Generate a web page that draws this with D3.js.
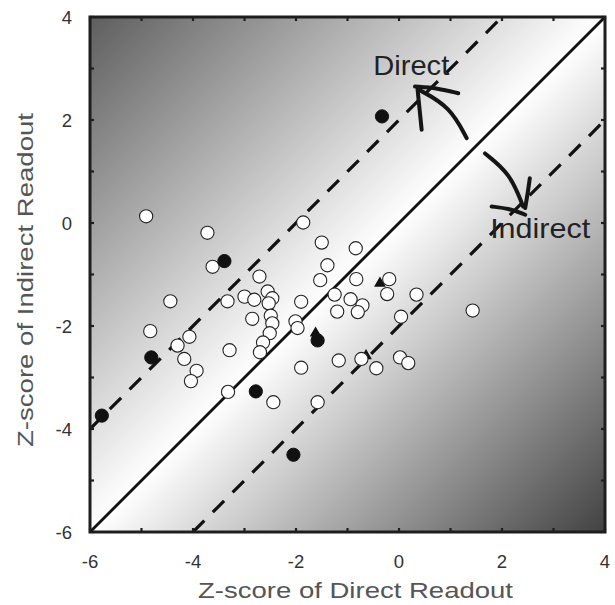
<!DOCTYPE html>
<html>
<head>
<meta charset="utf-8">
<script src="https://cdn.jsdelivr.net/npm/d3@7"></script>
<style>
  html, body { margin: 0; padding: 0; background: #fff; }
  svg { display: block; }
  text { font-family: "Liberation Sans", Arial, Helvetica, sans-serif; }
</style>
</head>
<body>
<script>
// ---- Data ----
const openX = [-4.91, -3.72, -3.62, -1.86, -1.50, -0.84, -1.39, -2.71, -1.53, -0.83, -0.19,
  -4.44, -3.33, -3.00, -2.81, -2.55, -2.46, -2.53, -1.90, -1.25, -0.94, -0.71, -0.80, -1.20,
  -0.23, 0.34, 1.43, 0.04, -2.85, -2.49, -2.46, -2.51, -2.01, -1.97, -4.83, -4.07, -4.30,
  -3.29, -2.64, -2.70, -4.17, -3.93, -4.04, -3.32, -2.44, -1.90, -1.58, -1.17, -0.73, -0.44,
  0.02, 0.18];
const openY = [0.13, -0.19, -0.85, 0.01, -0.38, -0.49, -0.82, -1.04, -1.11, -1.09, -1.09,
  -1.52, -1.52, -1.43, -1.49, -1.33, -1.46, -1.56, -1.53, -1.39, -1.48, -1.60, -1.73, -1.72,
  -1.38, -1.39, -1.70, -1.82, -1.86, -1.80, -1.95, -2.14, -1.91, -2.04, -2.10, -2.21, -2.38,
  -2.47, -2.32, -2.51, -2.64, -2.87, -3.07, -3.28, -3.48, -2.81, -3.48, -2.67, -2.64, -2.82,
  -2.61, -2.72];
const filledX = [-0.33, -3.39, -4.81, -5.77, -2.78, -1.58, -2.05];
const filledY = [2.07, -0.74, -2.61, -3.74, -3.27, -2.28, -4.50];
const triX = [-0.37, -1.62, -0.64];
const triY = [-1.17, -2.14, -2.58];
const tickValues = [-6, -4, -2, 0, 2, 4];
const minorTicks = [-6, -5, -4, -3, -2, -1, 0, 1, 2, 3, 4];
const xTitle = "Z-score of Direct Readout";
const yTitle = "Z-score of Indirect Readout";
// reference lines: y = x + offset
const lineOffsets = [0];
const dashedOffsets = [2, -2];
// hand-drawn arrow annotations (data units)
const arrowCurves = [
  [[1.315, 1.645], [0.99, 2.26], [0.40, 2.58]],
  [[1.67, 1.35], [2.16, 0.96], [2.41, 0.32]]
];
const arrowHeads = [
  [[0.44, 1.81], [0.40, 2.20], [0.36, 2.60]],
  [[0.31, 2.65], [0.75, 2.62], [1.15, 2.52]],
  [[2.54, 0.87], [2.50, 0.58], [2.45, 0.29]],
  [[1.80, 0.32], [2.15, 0.28], [2.45, 0.16]]
];
const labels = [
  { text: "Direct", x: -0.50, y: 2.88, len: 76 },
  { text: "Indirect", x: 1.77, y: -0.29, len: 100 }
];

// ---- Chart ----
const W = 615, H = 605;
const svg = d3.select("body").append("svg").attr("width", W).attr("height", H);
const x = d3.scaleLinear().domain([-6, 4]).range([90, 605]);
const y = d3.scaleLinear().domain([-6, 4]).range([532, 17]);

const defs = svg.append("defs");
const grad = defs.append("linearGradient").attr("id", "bg")
  .attr("gradientUnits", "userSpaceOnUse")
  .attr("x1", x(-6)).attr("y1", y(4)).attr("x2", x(4)).attr("y2", y(-6));
grad.append("stop").attr("offset", 0).attr("stop-color", "#5e5e5e");
grad.append("stop").attr("offset", 0.5).attr("stop-color", "#ffffff");
grad.append("stop").attr("offset", 1).attr("stop-color", "#424242");
defs.append("clipPath").attr("id", "clip").append("rect")
  .attr("x", x(-6)).attr("y", y(4)).attr("width", x(4) - x(-6)).attr("height", y(-6) - y(4));

svg.append("rect").attr("x", x(-6)).attr("y", y(4))
  .attr("width", x(4) - x(-6)).attr("height", y(-6) - y(4))
  .attr("fill", "url(#bg)");

const plot = svg.append("g").attr("clip-path", "url(#clip)");

// solid diagonal
lineOffsets.forEach(o => {
  plot.append("line")
    .attr("x1", x(-6)).attr("y1", y(-6 + o)).attr("x2", x(4)).attr("y2", y(4 + o))
    .attr("stroke", "#111").attr("stroke-width", 2.8);
});
// dashed lines
dashedOffsets.forEach(o => {
  const x0 = Math.max(-6, -6 - o), x1 = Math.min(4, 4 - o);
  plot.append("line")
    .attr("x1", x(x0)).attr("y1", y(x0 + o)).attr("x2", x(x1)).attr("y2", y(x1 + o))
    .attr("stroke", "#111").attr("stroke-width", 3.2)
    .attr("stroke-dasharray", "16,12");
});

// triangles
const tri = d3.symbol().type(d3.symbolTriangle).size(60);
plot.selectAll(".tri").data(triX.map((v, i) => [v, triY[i]])).enter()
  .append("path").attr("d", tri)
  .attr("transform", d => `translate(${x(d[0])},${y(d[1])})`)
  .attr("fill", "#111");

// open circles
plot.selectAll(".open").data(openX.map((v, i) => [v, openY[i]])).enter()
  .append("circle")
  .attr("cx", d => x(d[0])).attr("cy", d => y(d[1])).attr("r", 6.6)
  .attr("fill", "#fff").attr("stroke", "#222").attr("stroke-width", 1.1);

// filled circles
plot.selectAll(".filled").data(filledX.map((v, i) => [v, filledY[i]])).enter()
  .append("circle")
  .attr("cx", d => x(d[0])).attr("cy", d => y(d[1])).attr("r", 6.6)
  .attr("fill", "#111").attr("stroke", "#111").attr("stroke-width", 1);

// annotations
const curve = d3.line().x(d => x(d[0])).y(d => y(d[1])).curve(d3.curveBasis);
arrowCurves.concat(arrowHeads).forEach(pts => {
  svg.append("path").attr("d", curve(pts))
    .attr("fill", "none").attr("stroke", "#151515").attr("stroke-width", 4)
    .attr("stroke-linecap", "round");
});
labels.forEach(l => {
  svg.append("text").attr("x", x(l.x)).attr("y", y(l.y))
    .attr("font-size", 28).attr("fill", "#222")
    .attr("textLength", l.len).attr("lengthAdjust", "spacingAndGlyphs").text(l.text);
});

// frame
svg.append("rect").attr("x", x(-6)).attr("y", y(4))
  .attr("width", x(4) - x(-6)).attr("height", y(-6) - y(4))
  .attr("fill", "none").attr("stroke", "#1e1e1e").attr("stroke-width", 3);

// inward ticks
const tickLen = 4;
const tg = svg.append("g").attr("stroke", "#1e1e1e").attr("stroke-width", 2.2);
minorTicks.forEach(v => {
  tg.append("line").attr("x1", x(v)).attr("x2", x(v)).attr("y1", y(-6)).attr("y2", y(-6) - tickLen);
  tg.append("line").attr("x1", x(v)).attr("x2", x(v)).attr("y1", y(4)).attr("y2", y(4) + tickLen);
  tg.append("line").attr("y1", y(v)).attr("y2", y(v)).attr("x1", x(-6)).attr("x2", x(-6) + tickLen);
  tg.append("line").attr("y1", y(v)).attr("y2", y(v)).attr("x1", x(4)).attr("x2", x(4) - tickLen);
});

// tick labels
svg.selectAll(".xt").data(tickValues).enter().append("text")
  .attr("x", d => x(d)).attr("y", 568).attr("text-anchor", "middle")
  .attr("font-size", 18.5).attr("fill", "#333").text(d => d);
svg.selectAll(".yt").data(tickValues).enter().append("text")
  .attr("x", 72).attr("y", d => y(d) + 6.5).attr("text-anchor", "end")
  .attr("font-size", 18.5).attr("fill", "#333").text(d => d);

// axis titles
svg.append("text").attr("x", 198).attr("y", 598)
  .attr("font-size", 22).attr("fill", "#555")
  .attr("textLength", 315).attr("lengthAdjust", "spacingAndGlyphs").text(xTitle);
svg.append("text").attr("transform", `translate(33,447) rotate(-90)`)
  .attr("x", 0).attr("y", 0)
  .attr("font-size", 22).attr("fill", "#555")
  .attr("textLength", 334).attr("lengthAdjust", "spacingAndGlyphs").text(yTitle);
</script>
</body>
</html>
